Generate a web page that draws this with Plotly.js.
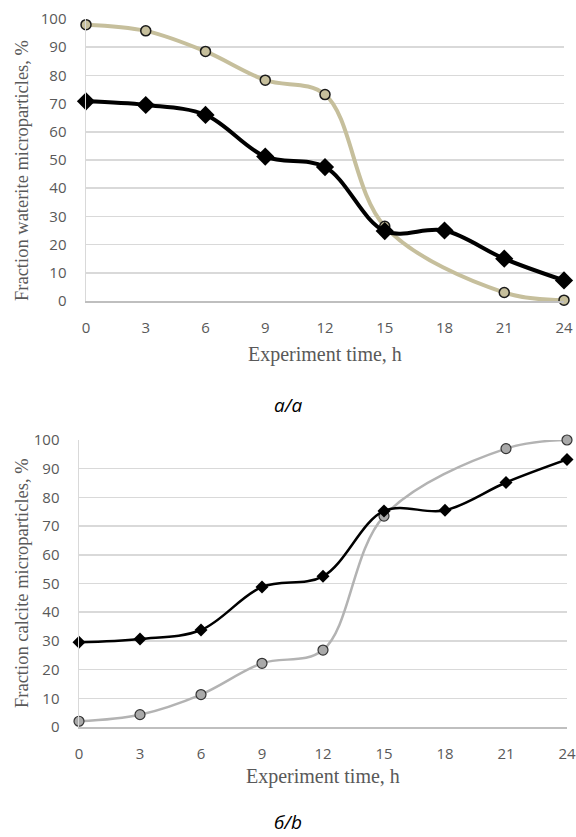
<!DOCTYPE html>
<html><head><meta charset="utf-8">
<script src="https://cdn.plot.ly/plotly-3.0.1.min.js"></script>
<style>html,body{margin:0;padding:0;background:#fff}#c{width:576px;height:837px}</style>
</head><body><div id="c"></div>
<script>
const hours = [0, 3, 6, 9, 12, 15, 18, 21, 24];
const xTicks = [0, 3, 6, 9, 12, 15, 18, 21, 24];
const yTicks = [0, 10, 20, 30, 40, 50, 60, 70, 80, 90, 100];
// Panel a: waterite
const waterTan = [98, 95.8, 88.5, 78.3, 73.2, 26.5, null, 3, 0.3];
const waterBlack = [70.8, 69.5, 66, 51.2, 47.5, 24.8, 25, 15, 7.3];
// Panel b: calcite
const calcBlack = [29.5, 30.7, 33.8, 48.8, 52.5, 75.3, 75.5, 85.2, 93.2];
const calcGray = [2, 4.3, 11.3, 22.2, 26.8, 73.5, null, 97, 100];

const H = 837, W = 576;
const fy = p => (H - p) / H;
const fx = p => p / W;

const traces = [
  {x: hours, y: waterTan, xaxis: 'x', yaxis: 'y', mode: 'lines+markers', connectgaps: true,
   line: {shape: 'spline', smoothing: 1, color: '#c6bf9c', width: 4},
   marker: {symbol: 'circle', size: 10, color: '#c6bf9c', line: {color: '#1a1a1a', width: 1.5}}, cliponaxis: false},
  {x: hours, y: waterBlack, xaxis: 'x', yaxis: 'y', mode: 'lines+markers',
   line: {shape: 'spline', smoothing: 1, color: '#000', width: 4},
   marker: {symbol: 'diamond', size: 14, color: '#000'}, cliponaxis: false},
  {x: hours, y: calcGray, xaxis: 'x2', yaxis: 'y2', mode: 'lines+markers', connectgaps: true,
   line: {shape: 'spline', smoothing: 1, color: '#b3b3b3', width: 2.5},
   marker: {symbol: 'circle', size: 10, color: '#a9a9a9', line: {color: '#333', width: 1.2}}, cliponaxis: false},
  {x: hours, y: calcBlack, xaxis: 'x2', yaxis: 'y2', mode: 'lines+markers',
   line: {shape: 'spline', smoothing: 1, color: '#000', width: 2.5},
   marker: {symbol: 'diamond', size: 10, color: '#000'}, cliponaxis: false}
];

const tickFont = {family: '"Open Sans", sans-serif', size: 15, color: '#595959'};
function xa(dom, anchor) {
  return {domain: dom, anchor: anchor, range: [0, 24], tickvals: xTicks, ticktext: xTicks.map(String),
    showgrid: false, zeroline: false, showline: true, linecolor: '#bfbfbf', linewidth: 1.5,
    ticks: '', tickfont: tickFont, ticklabelstandoff: 12, fixedrange: true};
}
function ya(dom, anchor) {
  return {domain: dom, anchor: anchor, range: [0, 100], tickvals: yTicks, ticktext: yTicks.map(String),
    showgrid: true, gridcolor: '#d9d9d9', gridwidth: 1.5, zeroline: false, showline: true,
    linecolor: '#d9d9d9', linewidth: 1.5, ticks: '', tickfont: tickFont, ticklabelstandoff: 15, fixedrange: true};
}

const yTitleFont = {family: '"Liberation Serif", "Times New Roman", serif', size: 18.5, color: '#595959'};
const xTitleFont = {family: '"Liberation Serif", "Times New Roman", serif', size: 20, color: '#595959'};
const capFont = {family: '"Open Sans", sans-serif', size: 19, color: '#000'};
const layout = {
  width: W, height: H, margin: {l: 0, r: 0, t: 0, b: 0},
  paper_bgcolor: '#fff', plot_bgcolor: 'rgba(0,0,0,0)', showlegend: false,
  xaxis: xa([fx(86), fx(564)], 'y'),
  yaxis: ya([fy(301), fy(19)], 'x'),
  xaxis2: xa([fx(79), fx(567)], 'y2'),
  yaxis2: ya([fy(727), fy(440)], 'x2'),
  annotations: [
    {text: 'Fraction waterite microparticles, %', xref: 'paper', yref: 'paper', x: fx(22), y: fy(171),
     textangle: -90, showarrow: false, font: yTitleFont, xanchor: 'center', yanchor: 'middle'},
    {text: 'Experiment time, h', xref: 'paper', yref: 'paper', x: fx(325), y: fy(354),
     showarrow: false, font: xTitleFont, xanchor: 'center', yanchor: 'middle'},
    {text: '<i>а/a</i>', xref: 'paper', yref: 'paper', x: fx(288), y: fy(405),
     showarrow: false, font: capFont, xanchor: 'center', yanchor: 'middle'},
    {text: 'Fraction calcite microparticles, %', xref: 'paper', yref: 'paper', x: fx(22), y: fy(583),
     textangle: -90, showarrow: false, font: yTitleFont, xanchor: 'center', yanchor: 'middle'},
    {text: 'Experiment time, h', xref: 'paper', yref: 'paper', x: fx(323), y: fy(776),
     showarrow: false, font: xTitleFont, xanchor: 'center', yanchor: 'middle'},
    {text: '<i>б/b</i>', xref: 'paper', yref: 'paper', x: fx(288), y: fy(822),
     showarrow: false, font: capFont, xanchor: 'center', yanchor: 'middle'}
  ]
};
Plotly.newPlot('c', traces, layout, {staticPlot: true, displayModeBar: false});
</script></body></html>
